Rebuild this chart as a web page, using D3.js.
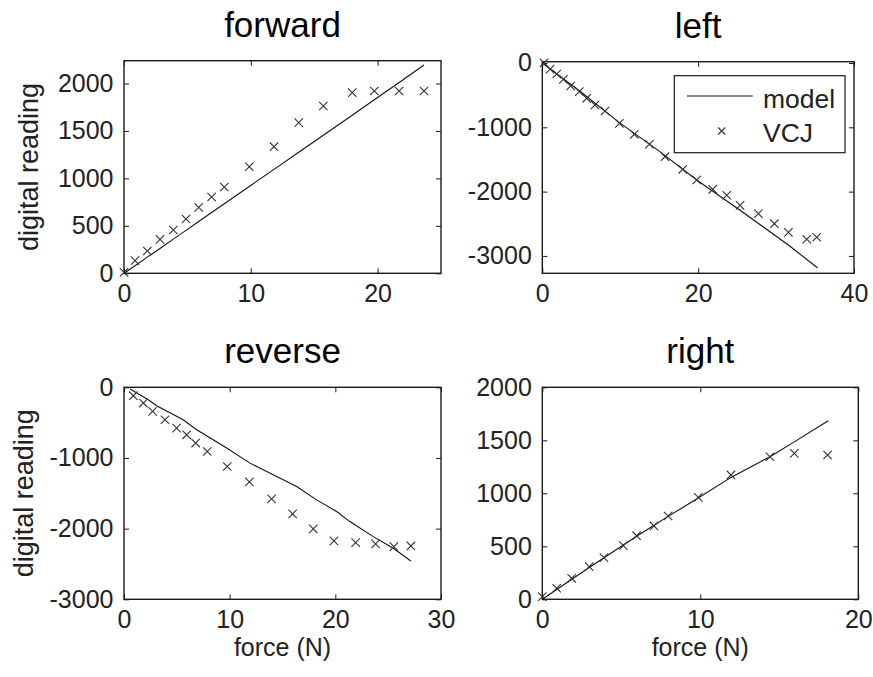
<!DOCTYPE html>
<html>
<head>
<meta charset="utf-8">
<script src="https://cdn.jsdelivr.net/npm/d3@7"></script>
<style>
body { margin: 0; background: #fff; }
text { font-family: "Liberation Sans", Arial, sans-serif; }
</style>
</head>
<body>
<svg id="chart" width="873" height="677"></svg>
<script>
// ---- data ----
// forward
var fwdX = [0, 0.87, 1.84, 2.84, 3.89, 4.89, 5.89, 6.91, 7.91, 9.88, 11.83, 13.78, 15.72, 18.0, 19.74, 21.7, 23.66];
var fwdVCJ = [10, 133, 235, 358, 456, 572, 695, 804, 909, 1123, 1334, 1587, 1763, 1903, 1921, 1921, 1921];
var fwdModel = [0, 80, 170, 262, 360, 452, 545, 640, 732, 915, 1095, 1275, 1455, 1665, 1828, 2010, 2195];

// left
var leftX = [0.22, 1.0, 1.85, 2.7, 3.64, 4.75, 5.7, 6.76, 8.05, 9.89, 11.81, 13.74, 15.75, 18.02, 19.82, 21.87, 23.67, 25.38, 27.73, 29.78, 31.58, 33.94, 35.22];
var leftVCJ = [4, -95, -171, -254, -358, -446, -549, -653, -747, -938, -1109, -1264, -1457, -1653, -1819, -1964, -2057, -2213, -2343, -2499, -2633, -2741, -2710];
var leftModelX = [0, 5, 9.89, 15, 19.82, 25.38, 31.58, 35.3];
var leftModel = [0, -455, -928, -1370, -1819, -2290, -2830, -3183];

// reverse
var revX = [0.88, 1.83, 2.71, 3.88, 4.98, 5.93, 6.78, 7.88, 9.77, 11.86, 13.97, 15.96, 17.91, 19.87, 21.92, 23.81, 25.54, 27.15];
var revVCJ = [-119, -223, -341, -459, -577, -672, -789, -908, -1121, -1338, -1579, -1791, -2004, -2174, -2198, -2216, -2255, -2245];
var revModelX = [0.57, 2.3, 3.09, 5.6, 6.88, 9.72, 11.92, 14.45, 16.34, 18.23, 20.12, 21.38, 23.59, 25.48, 27.15];
var revModel = [-24, -176, -261, -459, -601, -860, -1073, -1262, -1404, -1593, -1758, -1900, -2113, -2278, -2457];

// right
var rightX = [0, 0.91, 1.86, 2.97, 3.9, 5.13, 5.97, 7.07, 7.96, 9.87, 11.94, 14.41, 15.95, 18.06];
var rightVCJ = [25, 104, 198, 308, 393, 506, 600, 692, 786, 962, 1173, 1345, 1377, 1361];
var rightModelX = [0, 2.97, 5.97, 7.96, 9.87, 11.94, 14.41, 16.0, 18.1];
var rightModel = [0, 300, 595, 782, 955, 1150, 1345, 1490, 1685];

var legendLabels = ["model", "VCJ"];

// ---- panels ----
var panels = [
  { title: "forward", x0: 124, x1: 441, y0: 60.7, y1: 273.3,
    xDomain: [0, 25], yDomain: [0, 2240],
    xTicks: [0, 10, 20], yTicks: [0, 500, 1000, 1500, 2000],
    px: fwdX, py: fwdVCJ, mx: fwdX, my: fwdModel,
    ylabel: "digital reading", ylabelX: 37.6 },
  { title: "left", x0: 542.3, x1: 854, y0: 61.7, y1: 273.3,
    xDomain: [0, 40], yDomain: [-3270, 20],
    xTicks: [0, 20, 40], yTicks: [0, -1000, -2000, -3000],
    px: leftX, py: leftVCJ, mx: leftModelX, my: leftModel,
    legend: true },
  { title: "reverse", x0: 124, x1: 441, y0: 387.3, y1: 599.3,
    xDomain: [0, 30], yDomain: [-3000, 0],
    xTicks: [0, 10, 20, 30], yTicks: [0, -1000, -2000, -3000],
    px: revX, py: revVCJ, mx: revModelX, my: revModel,
    ylabel: "digital reading", ylabelX: 32.6, xlabel: "force (N)" },
  { title: "right", x0: 542.3, x1: 858.3, y0: 387.3, y1: 599.3,
    xDomain: [0, 20], yDomain: [0, 2000],
    xTicks: [0, 10, 20], yTicks: [0, 500, 1000, 1500, 2000],
    px: rightX, py: rightVCJ, mx: rightModelX, my: rightModel,
    xlabel: "force (N)" }
];

var svg = d3.select("#chart");
var ink = "#1a1a1a";
var plain = function (d) { return String(d); };

function xMark(g, cx, cy, r) {
  g.append("path")
    .attr("d", "M" + (cx - r) + "," + (cy - r) + "L" + (cx + r) + "," + (cy + r) +
               "M" + (cx - r) + "," + (cy + r) + "L" + (cx + r) + "," + (cy - r))
    .attr("stroke", "#333").attr("stroke-width", 1.1).attr("fill", "none");
}

panels.forEach(function (p) {
  var x = d3.scaleLinear().domain(p.xDomain).range([p.x0, p.x1]);
  var y = d3.scaleLinear().domain(p.yDomain).range([p.y1, p.y0]);
  var g = svg.append("g");

  // axes with inward ticks on all four sides
  var ax = [
    { a: d3.axisBottom(x).tickValues(p.xTicks).tickSize(-5).tickPadding(11).tickFormat(plain), t: "translate(0," + p.y1 + ")" },
    { a: d3.axisTop(x).tickValues(p.xTicks).tickSize(-5).tickFormat(""), t: "translate(0," + p.y0 + ")" },
    { a: d3.axisLeft(y).tickValues(p.yTicks).tickSize(-5).tickPadding(10.5).tickFormat(plain), t: "translate(" + p.x0 + ",0)" },
    { a: d3.axisRight(y).tickValues(p.yTicks).tickSize(-5).tickFormat(""), t: "translate(" + p.x1 + ",0)" }
  ];
  ax.forEach(function (d) {
    var ag = g.append("g").attr("transform", d.t).call(d.a.tickSizeOuter(0));
    ag.select(".domain").remove();
    ag.selectAll(".tick line").attr("stroke", ink).attr("stroke-width", 1);
    ag.selectAll(".tick text").attr("fill", "#222").style("font-size", "25px")
      .style("font-family", '"Liberation Sans", Arial, sans-serif');
  });

  // frame
  g.append("rect").attr("x", p.x0).attr("y", p.y0)
    .attr("width", p.x1 - p.x0).attr("height", p.y1 - p.y0)
    .attr("fill", "none").attr("stroke", ink).attr("stroke-width", 1.4);

  // model line
  var line = d3.line().x(function (d) { return x(d[0]); }).y(function (d) { return y(d[1]); });
  g.append("path").datum(d3.zip(p.mx, p.my))
    .attr("d", line).attr("fill", "none").attr("stroke", "#111").attr("stroke-width", 1.1);

  // VCJ markers
  d3.zip(p.px, p.py).forEach(function (d) { xMark(g, x(d[0]), y(d[1]), 4.2); });

  // title
  g.append("text").attr("x", (p.x0 + p.x1) / 2).attr("y", p.y0 - 24)
    .attr("text-anchor", "middle").style("font-size", "35px").attr("fill", "#000").text(p.title);

  if (p.ylabel) {
    g.append("text")
      .attr("transform", "translate(" + p.ylabelX + "," + ((p.y0 + p.y1) / 2) + ") rotate(-90)")
      .attr("text-anchor", "middle").style("font-size", "27px").attr("fill", "#222").text(p.ylabel);
  }
  if (p.xlabel) {
    g.append("text").attr("x", (p.x0 + p.x1) / 2).attr("y", p.y1 + 57)
      .attr("text-anchor", "middle").style("font-size", "25px").attr("fill", "#222").text(p.xlabel);
  }

  if (p.legend) {
    var lg = g.append("g");
    lg.append("rect").attr("x", 674.3).attr("y", 75.7).attr("width", 170.7).attr("height", 77)
      .attr("fill", "#fff").attr("stroke", ink).attr("stroke-width", 1.2);
    lg.append("line").attr("x1", 687).attr("x2", 752.7).attr("y1", 96).attr("y2", 96)
      .attr("stroke", "#111").attr("stroke-width", 1.1);
    xMark(lg, 721.7, 131, 3.5);
    lg.selectAll("text.lab").data(legendLabels).enter().append("text")
      .attr("x", 763).attr("y", function (d, i) { return 108.3 + i * 33.4; })
      .style("font-size", "26.5px").attr("fill", "#222").text(function (d) { return d; });
  }
});
</script>
</body>
</html>
